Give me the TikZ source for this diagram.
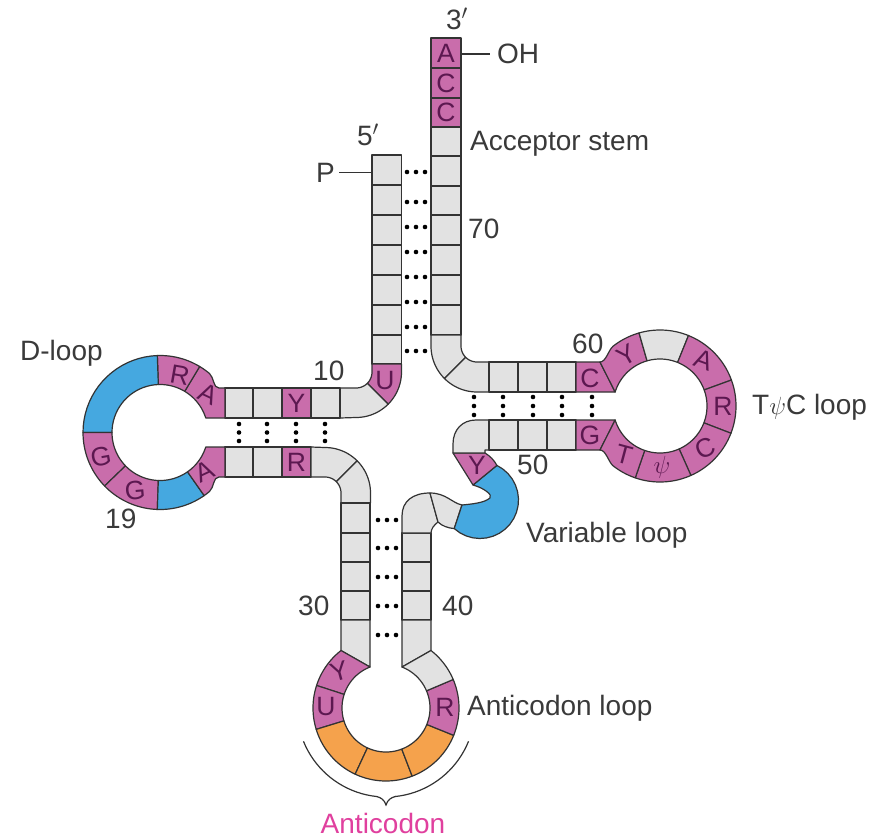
\documentclass[tikz,border=0pt]{standalone}
\usepackage{fontspec}
\setmainfont{Liberation Sans}
\usetikzlibrary{positioning}
\definecolor{cellGray}{HTML}{E2E2E2}
\definecolor{cellPink}{HTML}{C96DAB}
\definecolor{cellBlue}{HTML}{45A8E0}
\definecolor{cellOrange}{HTML}{F5A24C}
\definecolor{edgeDark}{HTML}{333333}
\definecolor{baseInk}{HTML}{5C1850}
\definecolor{labelInk}{HTML}{3A3A3A}
\definecolor{codonPink}{HTML}{E0409E}
\tikzset{
  cell/.style={draw=edgeDark, line width=1.2pt, line join=round, fill=#1},
  base/.style={font=\fontsize{26.5}{26.5}\selectfont, text=baseInk, inner sep=0pt},
  lbl/.style={font=\fontsize{28}{28}\selectfont, text=labelInk, inner sep=0pt},
  tick/.style={draw=edgeDark, line width=1.2pt},
}
\newcommand{\ringcell}[7]{%
  \filldraw[cell=#7] plot[domain=#5:#6] ({#1+#4*cos(\x)},{#2+#4*sin(\x)})
    -- plot[domain=#6:#5] ({#1+#3*cos(\x)},{#2+#3*sin(\x)}) -- cycle;}

\begin{document}
\begin{tikzpicture}[x=1pt, y=-1pt, samples=20]
  \useasboundingbox (0,0) rectangle (875,838);

  % acceptor stem
  \foreach \ya/\yb/\c in {38/68/cellPink, 68/98/cellPink, 98/127/cellPink, 127/156/cellGray,
      156/186/cellGray, 186/215/cellGray, 215/245/cellGray, 245/275/cellGray, 275/305/cellGray, 305/335/cellGray}
    \filldraw[cell=\c] (431,\ya) rectangle (461,\yb);
  \foreach \ya/\yb in {155/185, 185/215, 215/245, 245/275, 275/305, 305/335, 335/364}
    \filldraw[cell=cellGray] (372,\ya) rectangle (401.5,\yb);
  \filldraw[cell=cellGray] (431,335) -- (461,335) -- plot[domain=180:135] ({477+16*cos(\x)},{346+16*sin(\x)})
    -- plot[domain=135:180] ({477+46*cos(\x)},{346+46*sin(\x)}) -- cycle;
  \filldraw[cell=cellGray] plot[domain=135:90] ({477+16*cos(\x)},{346+16*sin(\x)}) -- (489,362) -- (489,392)
    -- plot[domain=90:135] ({477+46*cos(\x)},{346+46*sin(\x)}) -- cycle;
  \filldraw[cell=cellPink] (372,364) -- (401.5,364) -- plot[domain=0:45] ({356+45.5*cos(\x)},{372+45.5*sin(\x)})
    -- plot[domain=45:0] ({356+16*cos(\x)},{372+16*sin(\x)}) -- cycle;
  \filldraw[cell=cellGray] (340,388) -- plot[domain=90:45] ({356+16*cos(\x)},{372+16*sin(\x)})
    -- plot[domain=45:90] ({356+45.5*cos(\x)},{372+45.5*sin(\x)}) -- (340,418) -- cycle;

  % D arm
  \foreach \xa/\xb/\c in {225/253/cellGray, 253/282/cellGray, 282/311/cellPink, 311/340/cellGray}
    \filldraw[cell=\c] (\xa,388) rectangle (\xb,418);
  \foreach \xa/\xb/\c in {225/253/cellGray, 253/282/cellGray, 282/311/cellPink}
    \filldraw[cell=\c] (\xa,447) rectangle (\xb,477);
  \filldraw[cell=cellPink] (225,388) -- (225,418) -- (205.8,418)
    -- plot[domain=-17.6:-59] ({160+48*cos(\x)},{432.5+48*sin(\x)})
    -- plot[domain=-59:-50] ({160+77*cos(\x)},{432.5+77*sin(\x)})
    .. controls (214.1,377.4) and (213,388) .. (219,388) -- cycle;
  \ringcell{160}{432.5}{48}{77}{-92}{-59}{cellPink}
  \ringcell{160}{432.5}{48}{77}{180}{268}{cellBlue}
  \ringcell{160}{432.5}{48}{77}{136}{180}{cellPink}
  \ringcell{160}{432.5}{48}{77}{92}{136}{cellPink}
  \ringcell{160}{432.5}{48}{77}{55}{92}{cellBlue}
  \filldraw[cell=cellPink] (225,447) -- (225,477) -- (219,477) .. controls (213,477) and (214.1,487.6) .. (209.5,491.5)
    -- plot[domain=50:55] ({160+77*cos(\x)},{432.5+77*sin(\x)})
    -- plot[domain=55:17.6] ({160+48*cos(\x)},{432.5+48*sin(\x)}) -- cycle;

  % anticodon arm
  \filldraw[cell=cellGray] (311,447) -- plot[domain=270:315] ({325+45.5*cos(\x)},{493+45.5*sin(\x)})
    -- plot[domain=315:270] ({325+16*cos(\x)},{493+16*sin(\x)}) -- (311,477) -- cycle;
  \filldraw[cell=cellGray] plot[domain=315:360] ({325+45.5*cos(\x)},{493+45.5*sin(\x)}) -- (370.5,503) -- (341,503)
    -- plot[domain=360:315] ({325+16*cos(\x)},{493+16*sin(\x)}) -- cycle;
  \foreach \ya/\yb in {503/533, 533/562, 562/591, 591/620}
    \filldraw[cell=cellGray] (341,\ya) rectangle (370,\yb);
  \filldraw[cell=cellGray] (341,620) -- (370,620) -- (370,667) -- (341,650.5) -- cycle;
  \foreach \ya/\yb in {533/562, 562/591, 591/620}
    \filldraw[cell=cellGray] (402,\ya) rectangle (431,\yb);
  \filldraw[cell=cellGray] (402,620) -- (431,620) -- (431,650.5) -- (402,667) -- cycle;
  \filldraw[cell=cellPink] (341,650.5) -- (370,667) -- plot[domain=248.7:198] ({386+44*cos(\x)},{708+44*sin(\x)})
    -- plot[domain=198:232] ({386+73*cos(\x)},{708+73*sin(\x)}) -- cycle;
  \ringcell{386}{708}{44}{73}{163}{198}{cellPink}
  \ringcell{386}{708}{44}{73}{115}{163}{cellOrange}
  \ringcell{386}{708}{44}{73}{69}{115}{cellOrange}
  \ringcell{386}{708}{44}{73}{22}{69}{cellOrange}
  \ringcell{386}{708}{44}{73}{-23}{22}{cellPink}
  \filldraw[cell=cellGray] (402,667) -- (431,650.5) -- plot[domain=-52:-23] ({386+73*cos(\x)},{708+73*sin(\x)})
    -- plot[domain=-23:-68.7] ({386+44*cos(\x)},{708+44*sin(\x)}) -- cycle;

  % variable loop
  \filldraw[cell=cellGray] (402,533) -- (402,516) .. controls (402,501) and (413,493) .. (430,493)
    -- (438,522) .. controls (434,525) and (431,529) .. (431,533) -- cycle;
  \filldraw[cell=cellGray] (430,493) .. controls (446,493) and (452,503) .. (462,505)
    -- (454.2,528.6) .. controls (448,528) and (442,526) .. (438,522) -- cycle;
  \filldraw[cell=cellBlue] (473,485) -- (496.9,465.4) -- plot[domain=-64:132] ({480+38.5*cos(\x)},{500+38.5*sin(\x)})
    -- (462,505) .. controls (472,504) and (484,503) .. (490,498) .. controls (493,495) and (484,488) .. (473,485) -- cycle;
  \filldraw[cell=cellPink] (453,453) -- (485,453) .. controls (490,456) and (494,460) .. (496.9,465.4) -- (473,485) -- cycle;
  \filldraw[cell=cellGray] (489,420) -- (476,420) .. controls (462,420) and (453,430) .. (453,444)
    -- (453,453) -- (485,453) -- (485,450) -- (489,450) -- cycle;

  % T arm
  \foreach \xa/\xb in {489/518, 518/547, 547/576} {
    \filldraw[cell=cellGray] (\xa,362) rectangle (\xb,392);
    \filldraw[cell=cellGray] (\xa,420) rectangle (\xb,450);
  }
  \filldraw[cell=cellPink] (576,362) -- (600,362) -- (615.1,392) -- (576,392) -- cycle;
  \filldraw[cell=cellPink] (576,420) -- (615.1,420) -- (600,450) -- (576,450) -- cycle;
  \filldraw[cell=cellPink] (600,362) .. controls (606,362) and (608.5,349.8) .. (613.2,346.1)
    -- plot[domain=-128:-106] ({660+76*cos(\x)},{406+76*sin(\x)})
    -- plot[domain=-106:-162.7] ({660+47*cos(\x)},{406+47*sin(\x)}) -- cycle;
  \ringcell{660}{406}{47}{76}{-106}{-68}{cellGray}
  \ringcell{660}{406}{47}{76}{-68}{-20}{cellPink}
  \ringcell{660}{406}{47}{76}{-20}{21}{cellPink}
  \ringcell{660}{406}{47}{76}{21}{66}{cellPink}
  \ringcell{660}{406}{47}{76}{66}{109}{cellPink}
  \filldraw[cell=cellPink] (600,450) .. controls (606,450) and (608.5,462.2) .. (613.2,465.9)
    -- plot[domain=128:109] ({660+76*cos(\x)},{406+76*sin(\x)})
    -- plot[domain=109:162.7] ({660+47*cos(\x)},{406+47*sin(\x)}) -- cycle;

  % base pairs
  \foreach \yy in {172,202,227,252,277,302,327,351}
    \foreach \xx in {407,416,425} \fill (\xx,\yy) circle[radius=2.3];
  \foreach \xx in {239,267,296,325}
    \foreach \yy in {424,432.5,441} \fill (\xx,\yy) circle[radius=2.3];
  \foreach \xx in {474,503,533,562,592}
    \foreach \yy in {397,406,415} \fill (\xx,\yy) circle[radius=2.3];
  \foreach \yy in {520,548,577,606,635}
    \foreach \xx in {378,387,396} \fill (\xx,\yy) circle[radius=2.3];

  % bases
  \node[base] (acc-a) at (446,53) {A};
  \node[base] (acc-c1) at (446,83) {C};
  \node[base] (acc-c2) at (446,112.5) {C};
  \node[base] (u8) at (385,381) {U};
  \node[base] (y11) at (296.5,403) {Y};
  \node[base] (r24) at (296.5,462) {R};
  \node[base, rotate=-10] (r15) at (180,375) {R};
  \node[base, rotate=-25] (a14) at (208,394) {A};
  \node[base, rotate=10] (g18) at (101,457) {G};
  \node[base, rotate=5] (g19) at (135,491) {G};
  \node[base, rotate=25] (a21) at (205,471) {A};
  \node[base, rotate=15] (y32) at (339,671) {Y};
  \node[base] (u33) at (326,707) {U};
  \node[base] (r37) at (445,707) {R};
  \node[base] (y48) at (477,465) {Y};
  \node[base] (g53) at (590,435) {G};
  \node[base] (c61) at (590,378) {C};
  \node[base, rotate=30] (y60) at (627,355) {Y};
  \node[base, rotate=-20] (a58) at (704,360) {A};
  \node[base] (r57) at (723,406) {R};
  \node[base, rotate=25] (c56) at (705,448) {C};
  \node[base] (psi55) at (662,467) {$\psi$};
  \node[base, rotate=-15] (t54) at (624,455) {T};

  % anticodon bracket
  \draw[tick] plot[domain=158:96] ({386+89*cos(\x)},{708+89*sin(\x)})
    .. controls (381,797.5) and (384.5,800) .. (386,805)
    .. controls (387.5,800) and (391,797.5) .. (395.3,796.5)
    -- plot[domain=84:22] ({386+89*cos(\x)},{708+89*sin(\x)});

  % labels
  \node[lbl, anchor=base] (end3) at (457,29) {3$'$};
  \node[lbl, anchor=base] (end5) at (368,145) {5$'$};
  \coordinate (acc-tail) at (461,54);
  \node[lbl, anchor=west] (oh) at (497,54) {OH};
  \draw[tick] (acc-tail) -- ([xshift=-7pt]oh.west);
  \coordinate (p-tail) at (372,172.5);
  \node[lbl, anchor=east] (phos) at (335,172.5) {P};
  \draw[tick] ([xshift=4pt]phos.east) -- (p-tail);
  \node[lbl, anchor=base west] (acc-lbl) at (470,150) {Acceptor stem};
  \node[lbl, anchor=base west] (n70) at (468,238) {70};
  \node[lbl, anchor=base west] (n10) at (313,380) {10};
  \node[lbl, anchor=base west] (d-lbl) at (20,360) {D-loop};
  \node[lbl, anchor=base west] (n19) at (105,528) {19};
  \node[lbl, anchor=base west] (n60) at (572,353) {60};
  \node[lbl, anchor=base west] (t-lbl) at (752,414) {T$\psi$C loop};
  \node[lbl, anchor=base west] (n50) at (517,474) {50};
  \node[lbl, anchor=base west] (v-lbl) at (526,542) {Variable loop};
  \node[lbl, anchor=base west] (n30) at (298,615) {30};
  \node[lbl, anchor=base west] (n40) at (442,615) {40};
  \node[lbl, anchor=base west] (ac-lbl) at (467,715) {Anticodon loop};
  \node[lbl, anchor=base, text=codonPink] (codon) at (383,833) {Anticodon};
\end{tikzpicture}
\end{document}
